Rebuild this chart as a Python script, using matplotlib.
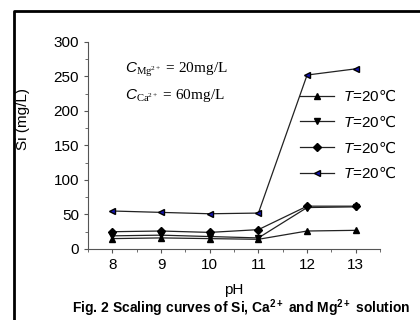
import numpy as np
import matplotlib.pyplot as plt
from matplotlib.ticker import MultipleLocator

# 数据
ph = [8, 9, 10, 11, 12, 13]
s_up = [15, 16, 15, 14, 26, 27]
s_down = [19, 20, 18, 16, 60, 61]
s_diam = [25, 26, 24, 28, 62, 62]
s_left = [55, 53, 51, 52, 252, 261]
labels = [r'$T$=20$\mathsf{℃}$'] * 4

plt.rcParams['font.family'] = ['Liberation Sans', 'DejaVu Sans']
plt.rcParams['mathtext.fontset'] = 'custom'
plt.rcParams['mathtext.it'] = 'Liberation Sans:italic'
plt.rcParams['mathtext.rm'] = 'Liberation Serif'
plt.rcParams['mathtext.bf'] = 'Liberation Sans:bold'
plt.rcParams['mathtext.sf'] = 'DejaVu Sans'

fig = plt.figure(figsize=(4.2, 3.2), dpi=100)
ax = fig.add_axes([0.2095, 0.222, 0.6955, 0.647])

kw = dict(color='#222222', lw=0.9, ms=5, mec='black')
ax.plot(ph, s_up, marker='^', mfc='black', label=labels[0], **kw)
ax.plot(ph, s_down, marker='v', mfc='black', label=labels[1], **kw)
ax.plot(ph, s_diam, marker='D', mfc='black', label=labels[2], **{**kw, 'ms': 4})
ax.plot(ph, s_left, marker='<', mfc='#1414b4', label=labels[3], **kw)

ax.set_xlim(7.5, 13.5)
ax.set_ylim(0, 300)
ax.xaxis.set_major_locator(MultipleLocator(1))
ax.xaxis.set_minor_locator(MultipleLocator(0.5))
ax.yaxis.set_major_locator(MultipleLocator(50))
ax.yaxis.set_minor_locator(MultipleLocator(25))
for s in ['top', 'right']:
    ax.spines[s].set_visible(False)
for s in ['left', 'bottom']:
    ax.spines[s].set_color('#555555')
    ax.spines[s].set_linewidth(0.8)
ax.tick_params(which='both', direction='out', color='#555555', labelsize=11, length=3)
ax.tick_params(which='minor', length=2)

ax.set_xlabel('pH', fontsize=11, labelpad=8)
ax.set_ylabel('Si (mg/L)', fontsize=11)
ax.yaxis.set_label_coords(-0.2, 0.63)

ax.text(0.125, 0.85, r'$C_{\mathrm{Mg}^{2+}}$ = 20mg/L', transform=ax.transAxes,
        fontsize=11, family='Liberation Serif')
ax.text(0.125, 0.725, r'$C_{\mathrm{Ca}^{2+}}$ = 60mg/L', transform=ax.transAxes,
        fontsize=11, family='Liberation Serif')

ax.legend(loc='upper left', bbox_to_anchor=(0.68, 0.84), frameon=False,
          fontsize=11, handlelength=2.2, labelspacing=0.68, handletextpad=0.6)

fig.text(0.574, 0.022, r'Fig. 2 Scaling curves of Si, Ca$^{\mathbf{2+}}$ and Mg$^{\mathbf{2+}}$ solution',
         ha='center', va='baseline', fontsize=10, fontweight='bold')

# 外框
fig.add_artist(plt.Line2D([0.034, 0.034, 1.0], [0.0, 0.966, 0.966],
                          transform=fig.transFigure, color='black', lw=2))

fig.savefig('out.png', dpi=100)
